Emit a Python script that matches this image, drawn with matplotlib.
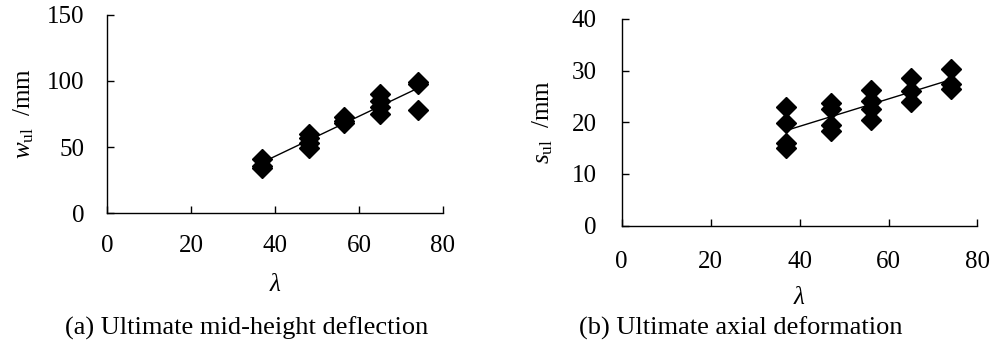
import matplotlib
matplotlib.use('Agg')
import matplotlib.pyplot as plt
import numpy as np

plt.rcParams['font.family'] = ['Liberation Serif', 'DejaVu Serif']
plt.rcParams['mathtext.fontset'] = 'custom'
plt.rcParams['mathtext.rm'] = 'Liberation Serif'
plt.rcParams['mathtext.it'] = 'Liberation Serif:italic'

# slenderness ratio of each specimen
lam_w = [37, 37, 37, 48, 48, 48, 48, 56.5, 56.5, 56.5, 65, 65, 65, 65, 74, 74, 74]
w_ul = [41, 36, 34, 60, 57, 53, 49, 73, 70, 68, 90, 85, 80, 75, 99, 98, 78]

lam_s = [37, 37, 37, 37, 47, 47, 47, 47, 56, 56, 56, 56, 65, 65, 65, 74, 74, 74]
s_ul = [23.0, 19.8, 16.0, 15.0, 23.8, 22.5, 19.5, 18.3, 26.2, 24.2, 22.5, 20.5,
        28.5, 26.0, 24.0, 30.3, 27.5, 26.5]

fig = plt.figure(figsize=(9.94, 3.47), dpi=100)
ax1 = fig.add_axes([0.1076, 0.386, 0.338, 0.571])
ax2 = fig.add_axes([0.6254, 0.3496, 0.358, 0.596])

FS = 18


def style(ax, ymax, ystep, xpad, ypad):
    ax.set_xlim(0, 80)
    ax.set_ylim(0, ymax)
    ax.set_xticks(np.arange(0, 81, 20))
    ax.set_yticks(np.arange(0, ymax + 1, ystep))
    for s in ['top', 'right']:
        ax.spines[s].set_visible(False)
    for s in ['left', 'bottom']:
        ax.spines[s].set_linewidth(1.0)
    ax.tick_params(direction='in', length=5, width=1, labelsize=FS)
    ax.tick_params(axis='x', pad=xpad)
    ax.tick_params(axis='y', pad=ypad)


def draw(ax, x, y):
    ax.plot(x, y, linestyle='none', marker='D', markersize=10.5,
            color='black', clip_on=False)
    k, b = np.polyfit(x, y, 1)
    xs = np.array([min(x), max(x)])
    ax.plot(xs, k * xs + b, color='black', linewidth=1.0)


draw(ax1, lam_w, w_ul)
style(ax1, 150, 50, 16, 16)
ax1.set_xlabel(r'$\lambda$', fontsize=FS, labelpad=12)
ax1.set_ylabel(r'$w_{\mathrm{ul}}$  /mm', fontsize=FS, labelpad=8)

draw(ax2, lam_s, s_ul)
style(ax2, 40, 10, 18, 18)
ax2.set_xlabel(r'$\lambda$', fontsize=FS, labelpad=10)
ax2.set_ylabel(r'$s_{\mathrm{ul}}$  /mm', fontsize=FS, labelpad=12)

fig.text(0.248, 0.035, '(a) Ultimate mid-height deflection', ha='center', fontsize=19)
fig.text(0.745, 0.035, '(b) Ultimate axial deformation', ha='center', fontsize=19)

fig.savefig('out.png', dpi=100)
